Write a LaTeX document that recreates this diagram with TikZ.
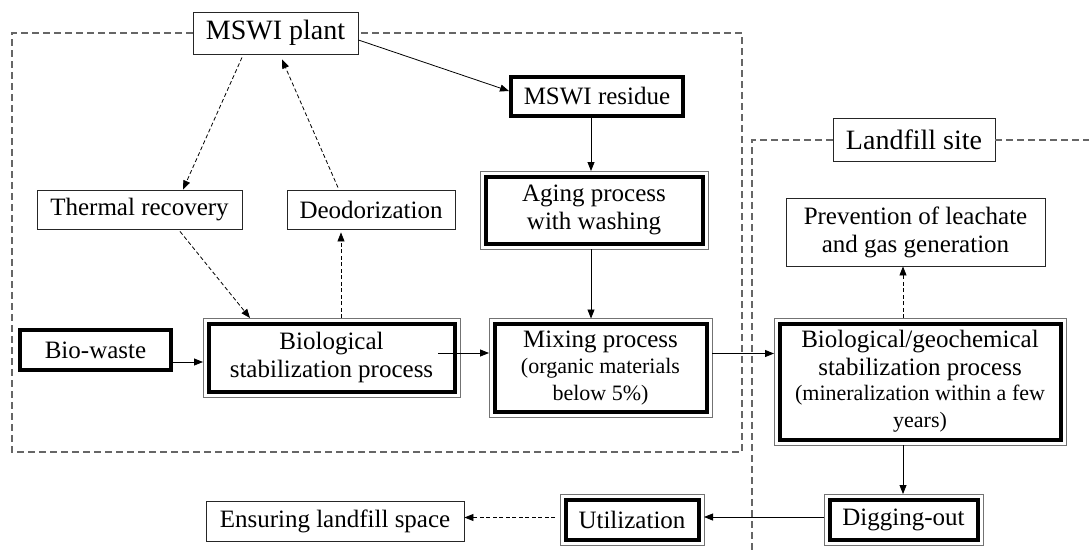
\documentclass[tikz,border=0pt]{standalone}
\usepackage{fontspec}
\setmainfont{Liberation Serif}
\usetikzlibrary{arrows.meta,calc}
\newcommand{\pfont}{\fontsize{22}{24}\selectfont}
\begin{document}
\begin{tikzpicture}[x=1pt,y=-1pt,
  every node/.style={font=\fontsize{25}{28}\selectfont},
  thinbox/.style={draw=black!85, line width=0.9pt, fill=white, inner sep=2pt, align=center},
  titlebox/.style={thinbox, font=\fontsize{28}{30}\selectfont},
  thickbox/.style={draw=black, line width=4pt, fill=white, inner sep=2pt, align=center},
  dblbox/.style={draw=black, line width=4pt, fill=white, inner sep=2pt, outer sep=5.5pt, align=center},
  frame/.style={draw=black!60, line width=1.1pt, dash pattern=on 7pt off 4pt},
  arr/.style={-{Triangle[length=9pt,width=7pt]}, line width=0.8pt, black},
  darr/.style={arr, dash pattern=on 4pt off 2.5pt}
]
\useasboundingbox (0,0) rectangle (1089,554);

% nodes
\node[titlebox, minimum width=165pt, minimum height=42pt] (plant) at (275.5,33) {MSWI plant};
\node[titlebox, minimum width=162pt, minimum height=43pt] (lfs) at (914,140) {Landfill site};
\node[thickbox, minimum width=172pt, minimum height=39pt] (res) at (597,96.5) {MSWI residue};
\node[thinbox, minimum width=205pt, minimum height=39pt] (thermal) at (139.5,209.5) {Thermal recovery};
\node[thinbox, minimum width=168pt, minimum height=39pt] (deo) at (371,209.5) {Deodorization};
\node[dblbox, minimum width=217pt, minimum height=67pt] (age) at (594,210) {Aging process\\with washing};
\node[thinbox, minimum width=259pt, minimum height=68pt] (prev) at (915.5,232) {Prevention of leachate\\and gas generation};
\node[thickbox, minimum width=151pt, minimum height=40pt] (bio) at (95.5,350) {Bio-waste};
\node[dblbox, minimum width=246pt, minimum height=68pt] (bs) at (331.5,357.5) {Biological\\stabilization process};
\node[dblbox, minimum width=212pt, minimum height=88pt] (mix) at (600.5,368) {Mixing process\\[-2pt]\pfont (organic materials\\[-1pt]\pfont below 5\%)};
\node[dblbox, minimum width=281pt, minimum height=116pt] (bg) at (920,381.5) {Biological/geochemical\\stabilization process\\[-3pt]\pfont (mineralization within a few\\[-1pt]\pfont years)};
\node[dblbox, minimum width=148pt, minimum height=40pt] (dig) at (903.5,519.5) {Digging-out};
\node[dblbox, minimum width=133pt, minimum height=40pt] (util) at (632,519.5) {Utilization};
\node[thinbox, minimum width=258pt, minimum height=40pt] (ens) at (335,521) {Ensuring landfill space};

% gray outer outlines of the double boxes
\foreach \n in {age,bs,mix,bg,dig,util}
  \draw[black!55, line width=0.8pt] (\n.north west) rectangle (\n.south east);

% frames
\draw[frame] (plant.west) -| (12,452) -| (742,33) -- (plant.east);
\draw[frame] (lfs.west) -| (752,554);
\draw[frame] (lfs.east) -- (1089,140);

% connectors
\coordinate (ax) at (591,0);
\draw[darr] ([xshift=-33.5pt,yshift=-3pt]plant.south) -- ([xshift=43.5pt]thermal.north);
\draw[darr] ([xshift=-33pt,yshift=2pt]deo.north) -- ([xshift=6.5pt,yshift=-5pt]plant.south);
\draw[darr] ([xshift=40.5pt,yshift=-2pt]thermal.south) -- ([xshift=-81.5pt]bs.north);
\coordinate (c0) at ([xshift=9.5pt]bs.north);
\draw[darr] (c0) -- ([yshift=-3pt]c0 |- deo.south);
\draw[arr] ([yshift=-7pt]plant.east) -- ([yshift=5.5pt]res.west);
\draw[arr] (res.south -| ax) -- (age.north -| ax);
\draw[arr] (age.south -| ax) -- (mix.north -| ax);
\coordinate (b1) at ([yshift=-12pt]bio.east);
\draw[arr] (b1) -- (b1 -| bs.west);
\coordinate (b2) at ([xshift=-22pt,yshift=4.5pt]bs.east);
\draw[arr] (b2) -- (b2 -| mix.west);
\coordinate (b3) at ([yshift=14.5pt]mix.east);
\draw[arr] (b3) -- (b3 -| bg.west);
\coordinate (c1) at ([xshift=-17pt]bg.north);
\draw[darr] (c1) -- (c1 |- prev.south);
\coordinate (c2) at ([xshift=-17pt]bg.south);
\draw[arr] (c2) -- (c2 |- dig.north);
\coordinate (e1) at ([yshift=2.5pt]dig.west);
\draw[arr] (e1) -- (e1 -| util.east);
\coordinate (e2) at ([xshift=-5pt,yshift=2pt]util.west);
\draw[darr] (e2) -- (e2 -| ens.east);
\end{tikzpicture}
\end{document}
